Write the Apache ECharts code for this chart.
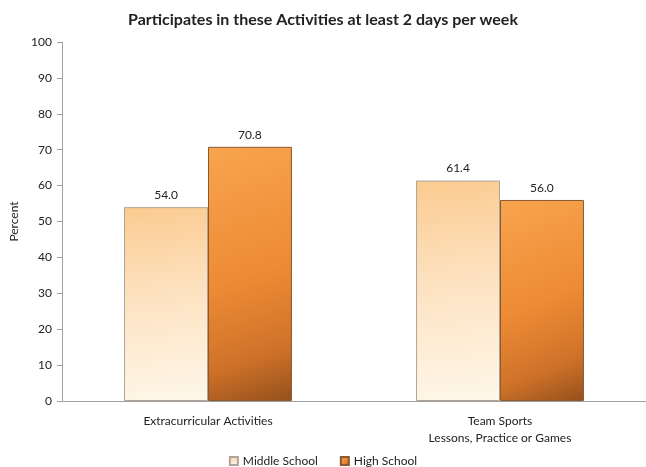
<!DOCTYPE html>
<html>
<head>
<meta charset="utf-8">
<script src="https://cdn.jsdelivr.net/npm/echarts@6/dist/echarts.min.js"></script>
<style>
  html, body { margin: 0; padding: 0; background: #fff; }
  #chart { width: 646px; height: 467px; }
</style>
</head>
<body>
<div id="chart"></div>
<script>
// Activity categories and participation percentages
const categories = ['Extracurricular Activities', 'Team Sports\nLessons, Practice or Games'];
const middleSchool = [54.0, 61.4];
const highSchool = [70.8, 56.0];
const seriesNames = ['Middle School', 'High School'];
const yTicks = { min: 0, max: 100, interval: 10 };

const FONT = 'Lato, "Open Sans", sans-serif';

const msFill = new echarts.graphic.LinearGradient(0, 0, 0.3, 1, [
  { offset: 0, color: '#fbcb90' },
  { offset: 0.45, color: '#fde1bf' },
  { offset: 1, color: '#fef6e7' }
]);
const hsFill = new echarts.graphic.LinearGradient(0, 0, 1, 1, [
  { offset: 0, color: '#f8a44f' },
  { offset: 0.5, color: '#ee8b35' },
  { offset: 0.8, color: '#cf7229' },
  { offset: 1, color: '#94501c' }
]);

const chart = echarts.init(document.getElementById('chart'), null, { renderer: 'canvas' });
chart.setOption({
  animation: false,
  textStyle: { fontFamily: FONT },
  title: {
    text: 'Participates in these Activities at least 2 days per week',
    left: 'center',
    top: 7,
    textStyle: { fontFamily: FONT, fontSize: 16, fontWeight: 'bold', color: '#222' }
  },
  legend: {
    top: 450,
    left: 'center',
    itemWidth: 8,
    itemHeight: 8,
    itemGap: 22,
    icon: 'rect',
    textStyle: { fontFamily: FONT, fontSize: 12, color: '#222' },
    data: seriesNames
  },
  grid: { left: 62, right: 0, top: 42, bottom: 66, containLabel: false },
  xAxis: {
    type: 'category',
    data: categories,
    axisLine: { lineStyle: { color: '#a0a0a0', width: 1 } },
    axisTick: { show: false },
    axisLabel: { fontFamily: FONT, fontSize: 12, color: '#222', margin: 12, lineHeight: 17 }
  },
  yAxis: {
    type: 'value',
    min: yTicks.min,
    max: yTicks.max,
    interval: yTicks.interval,
    name: 'Percent',
    nameLocation: 'middle',
    nameGap: 38,
    nameTextStyle: { fontFamily: FONT, fontSize: 12, color: '#222' },
    splitLine: { show: false },
    axisLine: { show: true, lineStyle: { color: '#a0a0a0' } },
    axisTick: { show: true, length: 5, lineStyle: { color: '#a0a0a0' } },
    axisLabel: { fontFamily: FONT, fontSize: 12, color: '#222', margin: 10 }
  },
  series: [
    {
      name: seriesNames[0],
      type: 'bar',
      data: middleSchool,
      barGap: '0%',
      barCategoryGap: '42.5%',
      itemStyle: { color: msFill, borderColor: '#b0a49a', borderWidth: 1 },
      label: {
        show: true, position: 'top', distance: 6,
        formatter: p => p.value.toFixed(1),
        fontFamily: FONT, fontSize: 12, color: '#222'
      }
    },
    {
      name: seriesNames[1],
      type: 'bar',
      data: highSchool,
      itemStyle: { color: hsFill, borderColor: '#8a5a30', borderWidth: 1 },
      label: {
        show: true, position: 'top', distance: 6,
        formatter: p => p.value.toFixed(1),
        fontFamily: FONT, fontSize: 12, color: '#222'
      }
    }
  ]
});
</script>
</body>
</html>
